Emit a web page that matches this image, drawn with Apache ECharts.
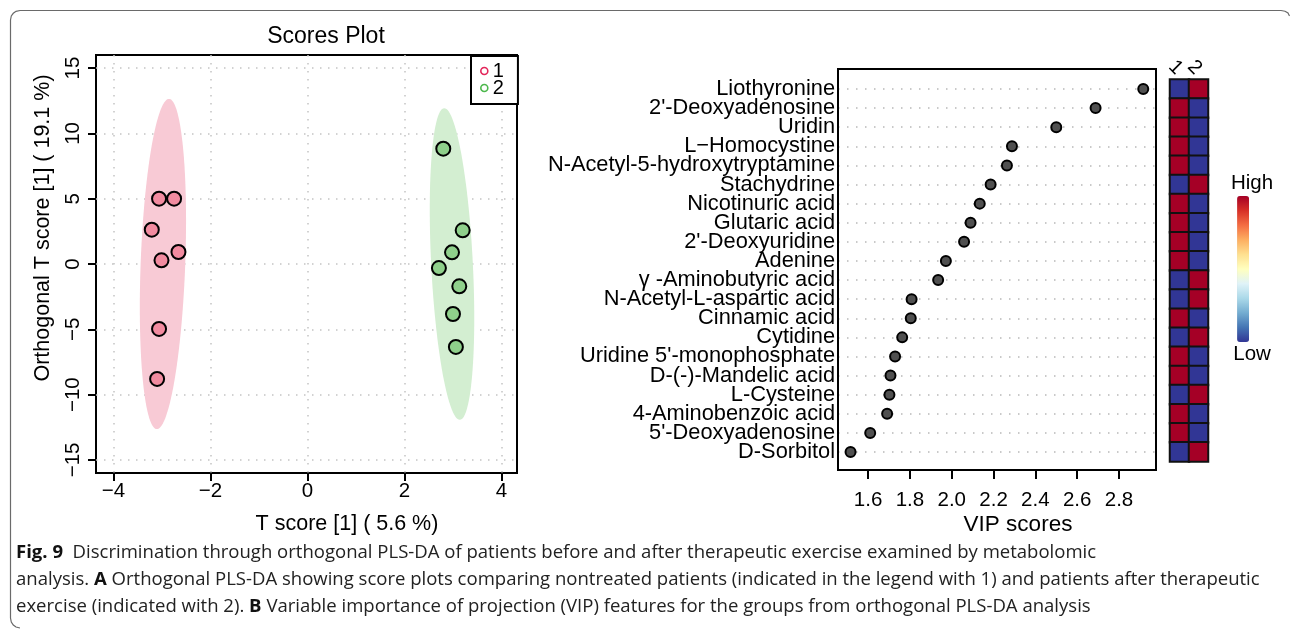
<!DOCTYPE html>
<html><head><meta charset="utf-8">
<script src="https://cdn.jsdelivr.net/npm/echarts@6/dist/echarts.min.js"></script>
<style>html,body{margin:0;padding:0;background:#fff}#c{width:1290px;height:630px}</style>
</head><body><div id="c"></div>
<script>
// ---------- Scores plot data ----------
const scoreTicksX = [-4, -2, 0, 2, 4];
const scoreTicksY = [-15, -10, -5, 0, 5, 10, 15];
const group1X = [-3.06, -2.75, -3.21, -2.66, -3.01, -3.06, -3.10];
const group1Y = [5.0, 5.0, 2.63, 0.92, 0.28, -4.97, -8.80];
const group2X = [2.80, 3.20, 2.98, 2.71, 3.13, 3.00, 3.06];
const group2Y = [8.83, 2.58, 0.89, -0.31, -1.71, -3.83, -6.35];
// confidence ellipses: centre x, centre y, major half-axis dx, dy, minor half-width
const ellipse1 = [-2.98, 0, 0.125, 12.64, 0.46];
const ellipse2 = [2.98, 0, -0.16, 11.93, 0.43];

// ---------- VIP plot data ----------
const metabolites = [
  'Liothyronine', "2'-Deoxyadenosine", 'Uridin', 'L\u2212Homocystine',
  'N-Acetyl-5-hydroxytryptamine', 'Stachydrine', 'Nicotinuric acid', 'Glutaric acid',
  "2'-Deoxyuridine", 'Adenine', '\u03b3 -Aminobutyric acid', 'N-Acetyl-L-aspartic acid',
  'Cinnamic acid', 'Cytidine', "Uridine 5'-monophosphate", 'D-(-)-Mandelic acid',
  'L-Cysteine', '4-Aminobenzoic acid', "5'-Deoxyadenosine", 'D-Sorbitol'
];
const vipScores = [2.916, 2.688, 2.500, 2.288, 2.264, 2.186, 2.134, 2.090, 2.059, 1.972,
                   1.935, 1.808, 1.804, 1.763, 1.729, 1.707, 1.702, 1.691, 1.610, 1.516];
const vipTicks = [1.6, 1.8, 2.0, 2.2, 2.4, 2.6, 2.8];
const groupLabels = ['1', '2'];
const levelGroup1 = [0,1,1,1,1,0,1,1,1,1,0,0,1,0,1,1,0,1,1,0];
const levelGroup2 = [1,0,0,0,0,1,0,0,0,0,1,1,0,1,0,0,1,0,0,1];
const legendText = ['High', 'Low'];

const captionLines = [
  ['Fig. 9', '  Discrimination through orthogonal PLS-DA of patients before and after therapeutic exercise examined by metabolomic'],
  ['', 'analysis. ', 'A', ' Orthogonal PLS-DA showing score plots comparing nontreated patients (indicated in the legend with 1) and patients after therapeutic'],
  ['', 'exercise (indicated with 2). ', 'B', ' Variable importance of projection (VIP) features for the groups from orthogonal PLS-DA analysis']
];

const FONT = '"Liberation Sans", Arial, Helvetica, sans-serif';
const CAPFONT = '"Open Sans", "Noto Sans", sans-serif';
const CAPSIZE = 18.55;
const minus = v => (v < 0 ? '\u2212' + Math.abs(v) : String(v));

const chart = echarts.init(document.getElementById('c'), null, {renderer: 'canvas'});

function ellipseItem(params, api) {
  const cx = api.value(0), cy = api.value(1), dx = api.value(2), dy = api.value(3), m = api.value(4);
  const pts = [];
  for (let k = 0; k < 120; k++) {
    const t = (k / 120) * Math.PI * 2;
    pts.push(api.coord([cx + Math.cos(t) * dx + Math.sin(t) * m, cy + Math.cos(t) * dy]));
  }
  return {type: 'polygon', shape: {points: pts}, style: {fill: api.visual('color'), stroke: null}};
}

const heatData = [];
metabolites.forEach((m, i) => {
  heatData.push([0, i, levelGroup1[i]]);
  heatData.push([1, i, levelGroup2[i]]);
});

const captionGraphics = captionLines.map((parts, li) => {
  let txt;
  if (li === 0) txt = '{b|' + parts[0] + '}{n|' + parts[1] + '}';
  else txt = '{n|' + parts[1] + '}{b|' + parts[2] + '}{n|' + parts[3] + '}';
  return {
    type: 'text', left: 16, top: 543 + li * 27,
    style: {
      text: txt, fill: '#222', font: CAPSIZE + 'px ' + CAPFONT,
      rich: {
        b: {fontFamily: CAPFONT, fontSize: CAPSIZE, fontWeight: 'bold', fill: '#111'},
        n: {fontFamily: CAPFONT, fontSize: CAPSIZE, fill: '#222'}
      }
    }
  };
});

// frame with rounded corners
const framePts = [[1289.5, 16], [1288, 13], [1285, 11.2], [1281, 10.5], [20, 10.5], [16, 11.3], [13.3, 13.3], [11.3, 16], [10.5, 20],
                  [10.5, 618], [11.3, 622], [13.3, 625], [16, 627], [20, 628]];

const option = {
  animation: false,
  backgroundColor: '#fff',
  textStyle: {fontFamily: FONT, color: '#000'},
  grid: [
    {left: 96, top: 55, width: 421, height: 418, show: true, borderColor: '#000', borderWidth: 2, backgroundColor: 'transparent'},
    {left: 838, top: 89, width: 318, height: 363},
    {left: 1170, top: 79.45, width: 38, height: 382}
  ],
  xAxis: [
    {gridIndex: 0, type: 'value', min: -4.36, max: 4.32,
     axisLine: {show: false, onZero: false},
     axisTick: {show: true, length: 8, lineStyle: {color: '#000', width: 2}, customValues: scoreTicksX},
     axisLabel: {customValues: scoreTicksX, margin: 8, fontSize: 20.5, color: '#000', fontFamily: FONT, formatter: minus},
     splitLine: {show: true, lineStyle: {color: '#c4c4c4', type: [1.5, 6.5], width: 1.5}}},
    {gridIndex: 1, type: 'value', min: 1.456, max: 2.977, offset: 18,
     axisLine: {show: false, onZero: false},
     axisTick: {show: true, length: 9, lineStyle: {color: '#000', width: 2}, customValues: vipTicks},
     axisLabel: {customValues: vipTicks, margin: 20, fontSize: 20.5, color: '#000', fontFamily: FONT, formatter: v => v.toFixed(1)},
     splitLine: {show: false}},
    {gridIndex: 2, type: 'category', data: groupLabels, position: 'top',
     axisLine: {show: false}, axisTick: {show: false},
     axisLabel: {rotate: 45, margin: 8, fontSize: 20, color: '#000', fontFamily: FONT, interval: 0},
     splitLine: {show: false}}
  ],
  yAxis: [
    {gridIndex: 0, type: 'value', min: -16, max: 16,
     axisLine: {show: false, onZero: false},
     axisTick: {show: true, length: 8, lineStyle: {color: '#000', width: 2}, customValues: scoreTicksY},
     axisLabel: {customValues: scoreTicksY, rotate: 90, margin: 12, fontSize: 20.5, color: '#000', fontFamily: FONT, formatter: minus},
     splitLine: {show: true, lineStyle: {color: '#c4c4c4', type: [1.5, 6.5], width: 1.5}}},
    {gridIndex: 1, type: 'category', data: metabolites, inverse: true, boundaryGap: false,
     axisLine: {show: false, onZero: false}, axisTick: {show: false},
     axisLabel: {interval: 0, margin: 3, fontSize: 21.8, color: '#000', fontFamily: FONT},
     splitLine: {show: true, interval: 0, lineStyle: {color: '#b8b8b8', type: [1.5, 7.5], width: 1.5}}},
    {gridIndex: 2, type: 'category', data: metabolites, inverse: true, show: false}
  ],
  legend: {
    left: 471, top: 56, orient: 'vertical', selectedMode: false,
    borderColor: '#000', borderWidth: 2, backgroundColor: '#fff',
    padding: [5, 14, 6, 9], itemGap: -3, itemWidth: 7, itemHeight: 7,
    textStyle: {fontSize: 20, color: '#000', fontFamily: FONT},
    data: [
      {name: '1', icon: 'circle', itemStyle: {color: '#fff', borderColor: '#E3265A', borderWidth: 1.6}},
      {name: '2', icon: 'circle', itemStyle: {color: '#fff', borderColor: '#4DB84D', borderWidth: 1.6}}
    ]
  },
  visualMap: {
    type: 'continuous', seriesIndex: 5, min: 0, max: 1, calculable: false,
    orient: 'vertical', left: 1216, top: 158, itemWidth: 12, itemHeight: 146,
    text: legendText, textGap: 2,
    textStyle: {fontSize: 20.5, color: '#000', fontFamily: FONT, padding: [0, 0, 0, 18]},
    inRange: {color: ['#313695', '#4575b4', '#74add1', '#abd9e9', '#e0f3f8', '#ffffbf', '#fee090', '#fdae61', '#f46d43', '#d73027', '#a50026']}
  },
  series: [
    {type: 'custom', name: 'ell1', xAxisIndex: 0, yAxisIndex: 0, renderItem: ellipseItem, data: [ellipse1],
     itemStyle: {color: '#F8CAD5'}, z: 1, silent: true},
    {type: 'custom', name: 'ell2', xAxisIndex: 0, yAxisIndex: 0, renderItem: ellipseItem, data: [ellipse2],
     itemStyle: {color: '#D3EED1'}, z: 1, silent: true},
    {type: 'scatter', name: '1', xAxisIndex: 0, yAxisIndex: 0, symbolSize: 14, z: 3,
     itemStyle: {color: '#F28BA0', borderColor: '#000', borderWidth: 2, opacity: 1},
     data: group1X.map((x, i) => [x, group1Y[i]])},
    {type: 'scatter', name: '2', xAxisIndex: 0, yAxisIndex: 0, symbolSize: 14, z: 3,
     itemStyle: {color: '#8FD08B', borderColor: '#000', borderWidth: 2, opacity: 1},
     data: group2X.map((x, i) => [x, group2Y[i]])},
    {type: 'scatter', name: 'vip', xAxisIndex: 1, yAxisIndex: 1, symbolSize: 10, z: 3,
     itemStyle: {color: '#505050', borderColor: '#000', borderWidth: 2, opacity: 1},
     data: metabolites.map((m, i) => [vipScores[i], m])},
    {type: 'heatmap', name: 'heat', xAxisIndex: 2, yAxisIndex: 2, data: heatData,
     itemStyle: {borderColor: '#111', borderWidth: 2}}
  ],
  graphic: [
    {type: 'polyline', shape: {points: framePts},
     style: {fill: null, stroke: '#6a6a6a', lineWidth: 1.2}, silent: true},
    {type: 'rect', shape: {x: 838, y: 69, width: 318, height: 401},
     style: {fill: null, stroke: '#000', lineWidth: 2}, z: 10, silent: true},
    {type: 'text', x: 326, y: 37, style: {text: 'Scores Plot', font: '23px ' + FONT, fill: '#000', textAlign: 'center', textVerticalAlign: 'middle'}},
    {type: 'text', x: 347, y: 524, style: {text: 'T score [1] ( 5.6 %)', font: '21.5px ' + FONT, fill: '#000', textAlign: 'center', textVerticalAlign: 'middle'}},
    {type: 'text', x: 43, y: 228, rotation: Math.PI / 2, style: {text: 'Orthogonal T score [1] ( 19.1 %)', font: '21.5px ' + FONT, fill: '#000', textAlign: 'center', textVerticalAlign: 'middle'}},
    {type: 'text', x: 1018, y: 525, style: {text: 'VIP scores', font: '22.5px ' + FONT, fill: '#000', textAlign: 'center', textVerticalAlign: 'middle'}}
  ].concat(captionGraphics)
};
chart.setOption(option);
</script></body></html>
